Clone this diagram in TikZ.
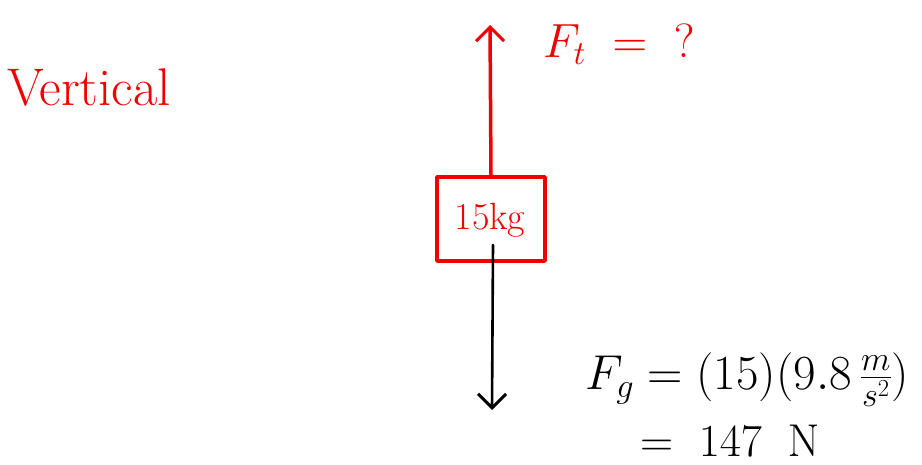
\RequirePackage{fix-cm}
\documentclass[tikz,border=0pt]{standalone}
\usepackage{amsmath}
\usetikzlibrary{arrows.meta}
\definecolor{ink}{RGB}{240,0,0}
\tikzset{
  redline/.style={draw=ink, line width=3.5pt, line cap=round, line join=round},
  blackline/.style={draw=black, line width=2.6pt, line cap=round},
  redtext/.style={text=ink, inner sep=0pt},
  blacktext/.style={text=black, inner sep=0pt},
  tip/.style={-{Straight Barb[length=14pt,width=28pt,line width=3pt]}}
}
\begin{document}
\begin{tikzpicture}[x=1pt,y=-1pt]
\useasboundingbox (0,0) rectangle (922,464);
\node[redtext, font=\fontsize{53}{60}\selectfont] (title) at (89,88) {Vertical};
\node[redline, minimum width=108pt, minimum height=84pt, inner sep=0pt] (box) at (491,219) {};
\node[redtext, font=\fontsize{38}{44}\selectfont] (mass) at (490,220) {15kg};
\coordinate (top) at (490,25);
\draw[redline, tip] (box.north) -- (top);
\node[redtext, anchor=west, font=\fontsize{48}{54}\selectfont] (ft) at (543,44) {$F_t \;=\; {?}$};
\coordinate (start) at (493,245);
\coordinate (bottom) at (492,410);
\draw[blackline, tip] (start) -- (bottom);
\node[blacktext, anchor=west, font=\fontsize{49}{56}\selectfont] (fg) at (585,380) {$F_g = (15)(9.8\,\tfrac{m}{s^2})$};
\node[blacktext, anchor=west, font=\fontsize{46}{52}\selectfont] (res) at (640,441) {$=\; 147\;\; \mathrm{N}$};
\end{tikzpicture}
\end{document}
